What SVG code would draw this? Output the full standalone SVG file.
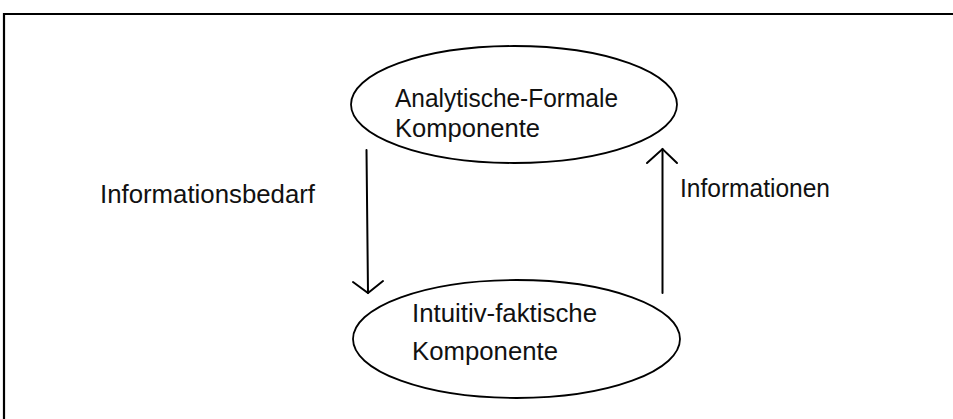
<svg xmlns="http://www.w3.org/2000/svg" width="953" height="419" viewBox="0 0 953 419">
  <style>
    .frame { fill: none; stroke: #000; stroke-width: 2.2; }
    .node ellipse { fill: #fff; stroke: #000; stroke-width: 1.8; }
    .lbl { font-family: "Liberation Sans", Arial, sans-serif; font-size: 25px; fill: #111; }
    .conn line, .conn polyline { fill: none; stroke: #000; stroke-width: 2; stroke-linecap: round; stroke-linejoin: miter; }
  </style>
  <rect width="953" height="419" fill="#fff"/>
  <!-- outer frame: only top and left edges fall inside the canvas -->
  <path class="frame" d="M4,420 V14 H954"/>

  <g id="node-analytisch" class="node">
    <ellipse cx="514" cy="104.5" rx="163" ry="58.5"/>
    <text class="lbl" x="395" y="107" textLength="223" lengthAdjust="spacingAndGlyphs">Analytische-Formale</text>
    <text class="lbl" x="395" y="137" textLength="145" lengthAdjust="spacingAndGlyphs">Komponente</text>
  </g>

  <g id="node-intuitiv" class="node">
    <ellipse cx="516.5" cy="339" rx="163.5" ry="59"/>
    <text class="lbl" x="412" y="321.5" textLength="185" lengthAdjust="spacingAndGlyphs">Intuitiv-faktische</text>
    <text class="lbl" x="412" y="359.5" textLength="146" lengthAdjust="spacingAndGlyphs">Komponente</text>
  </g>

  <g id="connectors" class="conn">
    <!-- Informationsbedarf: top to bottom -->
    <line x1="366.5" y1="150" x2="368" y2="293"/>
    <polyline points="353,282 368,293 383,281"/>
    <!-- Informationen: bottom to top -->
    <line x1="662.5" y1="293" x2="662.5" y2="149"/>
    <polyline points="647,163 662.5,149 677,163"/>
  </g>

  <g id="edge-labels">
    <text class="lbl" x="100" y="203" textLength="215" lengthAdjust="spacingAndGlyphs">Informationsbedarf</text>
    <text class="lbl" x="680" y="197" textLength="150" lengthAdjust="spacingAndGlyphs">Informationen</text>
  </g>
</svg>
